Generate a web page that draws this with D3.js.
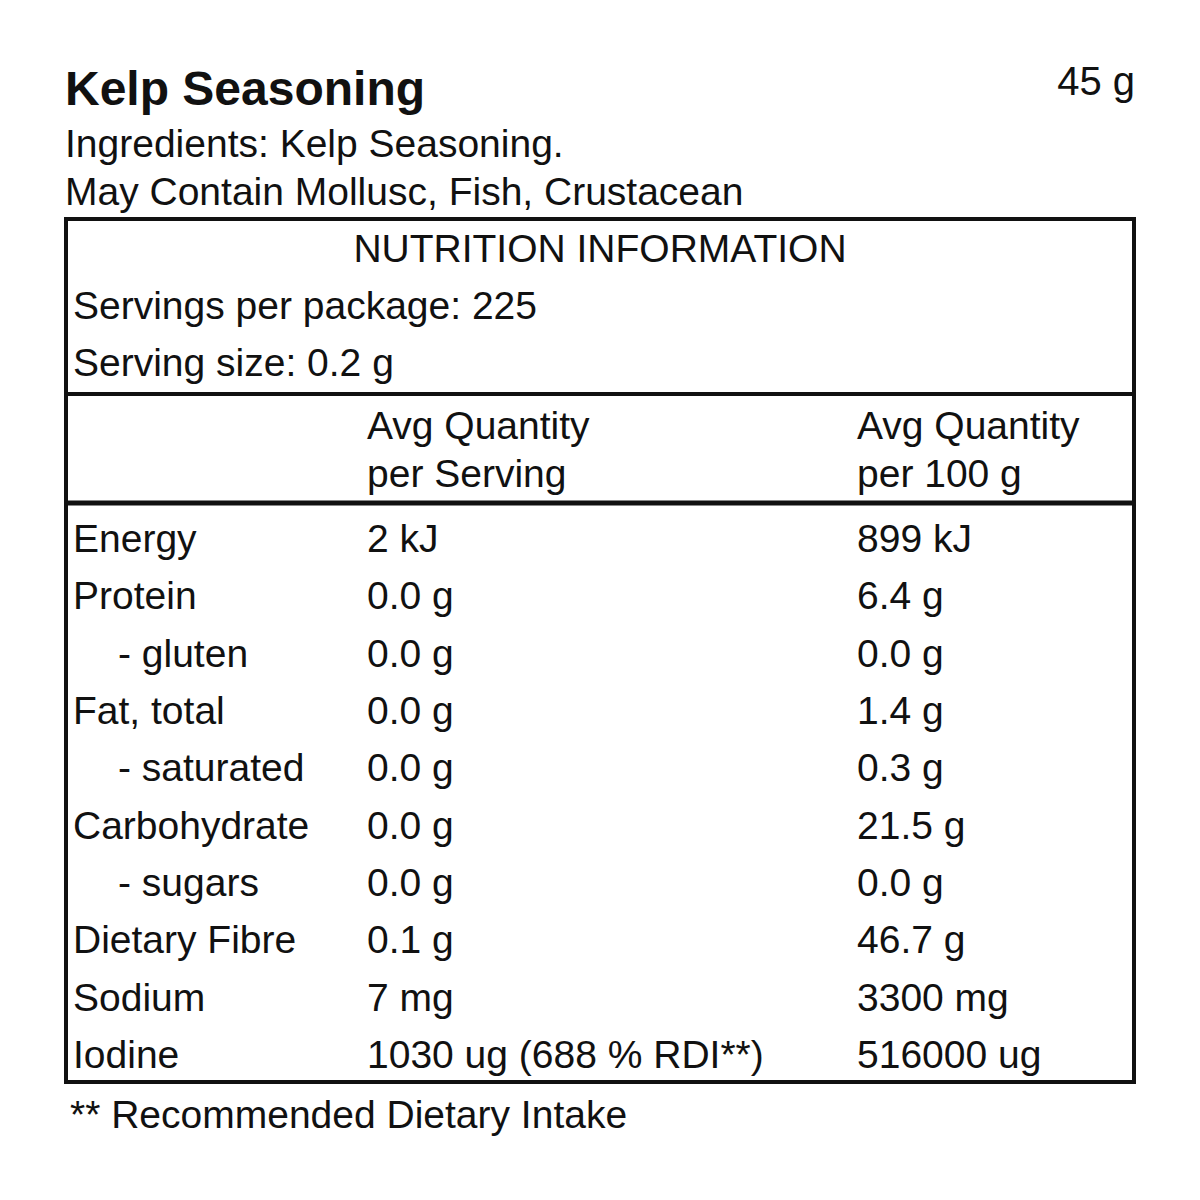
<!DOCTYPE html>
<html><head><meta charset="utf-8">
<script src="https://cdn.jsdelivr.net/npm/d3@7"></script>
<style>body{margin:0;background:#fff}text{font-family:"Liberation Sans",Arial,sans-serif;fill:#111}</style>
</head><body>
<script>
const title = "Kelp Seasoning";
const netWeight = "45 g";
const ingredientLines = ["Ingredients: Kelp Seasoning.", "May Contain Mollusc, Fish, Crustacean"];
const headerLines = ["Servings per package: 225", "Serving size: 0.2 g"];
const colHeaders = [["Avg Quantity","per Serving"],["Avg Quantity","per 100 g"]];
const nutrients = ["Energy","Protein","- gluten","Fat, total","- saturated","Carbohydrate","- sugars","Dietary Fibre","Sodium","Iodine"];
const indented = [false,false,true,false,true,false,true,false,false,false];
const perServing = ["2 kJ","0.0 g","0.0 g","0.0 g","0.0 g","0.0 g","0.0 g","0.1 g","7 mg","1030 ug (688 % RDI**)"];
const per100g = ["899 kJ","6.4 g","0.0 g","1.4 g","0.3 g","21.5 g","0.0 g","46.7 g","3300 mg","516000 ug"];
const footnote = "** Recommended Dietary Intake";

const svg = d3.select("body").append("svg").attr("width",1200).attr("height",1200);
svg.append("text").attr("x",65).attr("y",105).attr("font-size",48).attr("font-weight","bold").text(title);
svg.append("text").attr("x",1135).attr("y",95).attr("font-size",40).attr("text-anchor","end").text(netWeight);
ingredientLines.forEach((t,i)=>svg.append("text").attr("x",65).attr("y",157+i*48).attr("font-size",39).text(t));

svg.append("rect").attr("x",66).attr("y",219).attr("width",1068).attr("height",863).attr("fill","none").attr("stroke","#111").attr("stroke-width",4);
svg.append("line").attr("x1",66).attr("x2",1134).attr("y1",394).attr("y2",394).attr("stroke","#111").attr("stroke-width",4);
svg.append("line").attr("x1",66).attr("x2",1136).attr("y1",503).attr("y2",503).attr("stroke","#111").attr("stroke-width",5);

svg.append("text").attr("x",600).attr("y",262).attr("font-size",39).attr("text-anchor","middle").text("NUTRITION INFORMATION");
headerLines.forEach((t,i)=>svg.append("text").attr("x",73).attr("y",319+i*57).attr("font-size",39).text(t));
const colX = [367, 857];
colHeaders.forEach((c,j)=>c.forEach((t,i)=>svg.append("text").attr("x",colX[j]).attr("y",439+i*48).attr("font-size",39).text(t)));

const y = d3.scalePoint().domain(nutrients).range([552,1068]);
const g = svg.append("g");
nutrients.forEach((n,i)=>{
  g.append("text").attr("x",indented[i]?118:73).attr("y",y(n)).attr("font-size",39).text(n);
  g.append("text").attr("x",colX[0]).attr("y",y(n)).attr("font-size",39).text(perServing[i]);
  g.append("text").attr("x",colX[1]).attr("y",y(n)).attr("font-size",39).text(per100g[i]);
});
svg.append("text").attr("x",70).attr("y",1128).attr("font-size",39).text(footnote);
</script>
</body></html>
